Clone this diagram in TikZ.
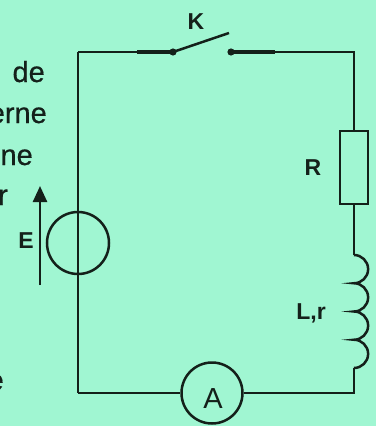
\documentclass[tikz,border=0pt]{standalone}
\usepackage{fontspec}
\setmainfont{Liberation Sans}
\newfontfamily\heavysans[FakeBold=0.5]{Liberation Sans}
\usetikzlibrary{arrows.meta}
\definecolor{bg}{RGB}{160,246,210}
\definecolor{ink}{RGB}{20,32,26}
\begin{document}
\begin{tikzpicture}[x=1pt,y=-1pt,
  wire/.style={draw=ink, line width=2.5pt},
  thick wire/.style={draw=ink, line width=3.8pt},
  lbl/.style={font=\bfseries\fontsize{23}{26}\selectfont, text=ink, inner sep=0},
  txt/.style={font=\heavysans\fontsize{29}{32}\selectfont, text=ink, anchor=base east, inner sep=0},
  comp/.style={draw=ink, line width=2.5pt, inner sep=0}]
\fill[bg] (0,0) rectangle (376,426);
\useasboundingbox (0,0) rectangle (376,426);
\clip (0,0) rectangle (376,426);
% corners and contacts
\coordinate (tl) at (78,52);
\coordinate (tr) at (354,52);
\coordinate (bl) at (78,393);
\coordinate (br) at (354,393);
\coordinate (k1) at (173,52);
\coordinate (k1a) at (137,52);
\coordinate (k2) at (231,52);
\coordinate (k2a) at (275,52);
\coordinate (kb) at (229,33);
\coordinate (Ltop) at (354,255);
\coordinate (Lbot) at (354,368);
\coordinate (ar0) at (40,285);
\coordinate (ar1) at (40,186);
% left wire passing through the source
\draw[wire] (tl) -- (bl);
\node[comp, circle, minimum size=62pt] (E) at (78,243) {};
% components
\node[comp, rectangle, minimum width=28pt, minimum height=73pt] (R) at (354,167.5) {};
\node[comp, circle, minimum size=61pt] (A) at (212,393) {};
\node[font=\fontsize{29}{32}\selectfont, text=ink, inner sep=0] (Alab) at (213,399) {A};
% wires
\draw[wire] (tl) -- (k1);
\draw[thick wire] (k1a) -- (k1);
\draw[wire] (k2) -- (tr) -- (R.north);
\draw[thick wire] (k2) -- (k2a);
\draw[wire] (k1) -- (kb);
\fill[ink] (k1) circle (3.6pt);
\fill[ink] (k2) circle (3.6pt);
\draw[wire] (R.south) -- (Ltop);
\draw[wire] (Ltop)
  arc[start angle=90, end angle=-90, radius=14.125pt]
  arc[start angle=90, end angle=-90, radius=14.125pt]
  arc[start angle=90, end angle=-90, radius=14.125pt]
  arc[start angle=90, end angle=-90, radius=14.125pt] -- (Lbot);
\draw[wire] (Lbot) -- (br) -- (A.east);
\draw[wire] (bl) -- (A.west);
% EMF arrow
\draw[draw=ink, line width=2.5pt, -{Triangle[length=16pt,width=14pt]}] (ar0) -- (ar1);
% labels
\node[lbl] (Klab) at (196,22) {K};
\node[lbl] (Rlab) at (313,168) {R};
\node[lbl] (Elab) at (26,241) {E};
\node[lbl] (Llab) at (311,313) {L,r};
% cut-off text on the left
\node[txt] (t1) at (45,82) {de};
\node[txt] (t2) at (47,123) {erne};
\node[txt] (t3) at (33,165) {ne};
\node[txt] (t4) at (8,205) {r};
\node[txt] (t5) at (4,390) {e};
\end{tikzpicture}
\end{document}
